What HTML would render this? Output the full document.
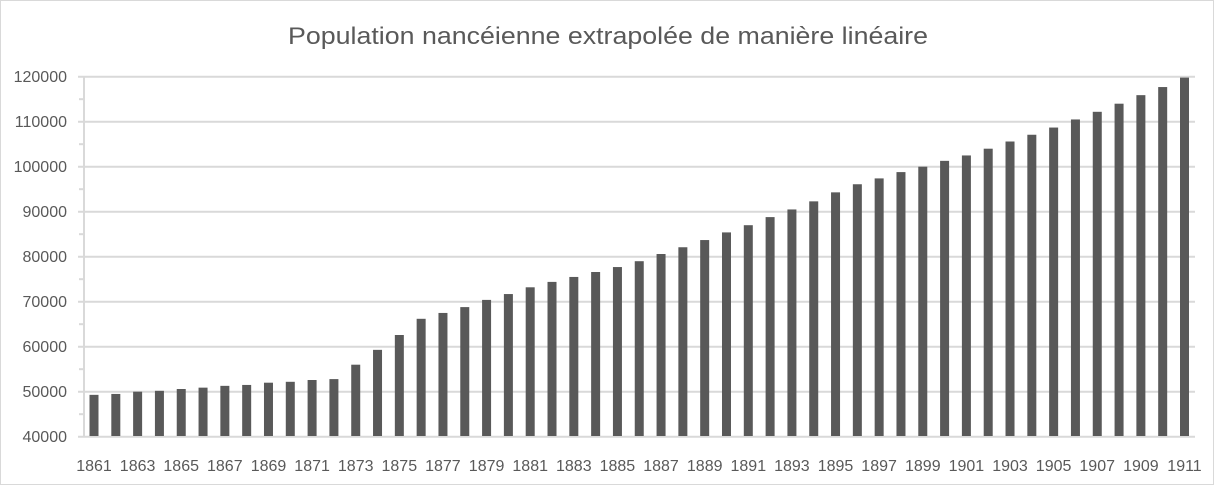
<!DOCTYPE html>
<html><head><meta charset="utf-8"><style>
html,body{margin:0;padding:0;background:#fff;}
svg{display:block;font-family:"Liberation Sans",sans-serif;}
</style></head><body>
<svg id="s" width="1216" height="486" viewBox="0 0 1216 486">
<rect x="0.5" y="0.5" width="1213" height="484" fill="#fff" stroke="#d9d9d9"/>
<text x="608" y="44" text-anchor="middle" font-size="24" fill="#595959" textLength="640" lengthAdjust="spacingAndGlyphs">Population nancéienne extrapolée de manière linéaire</text>
<g id="grid" stroke="#d9d9d9" stroke-width="2"></g>
<g id="bars" fill="#595959"></g>
<g font-size="16" fill="#595959" text-anchor="end">
<text x="67" y="82">120000</text>
<text x="67" y="127">110000</text>
<text x="67" y="172">100000</text>
<text x="67" y="217">90000</text>
<text x="67" y="262">80000</text>
<text x="67" y="307">70000</text>
<text x="67" y="352">60000</text>
<text x="67" y="397">50000</text>
<text x="67" y="442">40000</text>
</g>
<g font-size="16" fill="#595959" text-anchor="middle" id="xl">
<text x="94" y="471">1861</text><text x="137.6" y="471">1863</text><text x="181.2" y="471">1865</text><text x="224.8" y="471">1867</text><text x="268.5" y="471">1869</text><text x="312.1" y="471">1871</text><text x="355.7" y="471">1873</text><text x="399.3" y="471">1875</text><text x="442.9" y="471">1877</text><text x="486.6" y="471">1879</text><text x="530.2" y="471">1881</text><text x="573.8" y="471">1883</text><text x="617.4" y="471">1885</text><text x="661" y="471">1887</text><text x="704.7" y="471">1889</text><text x="748.3" y="471">1891</text><text x="791.9" y="471">1893</text><text x="835.5" y="471">1895</text><text x="879.1" y="471">1897</text><text x="922.8" y="471">1899</text><text x="966.4" y="471">1901</text><text x="1010" y="471">1903</text><text x="1053.6" y="471">1905</text><text x="1097.2" y="471">1907</text><text x="1140.9" y="471">1909</text><text x="1184.5" y="471">1911</text>
</g>
</svg>
<script>
var v=[49300,49500,50000,50200,50600,50900,51300,51500,52000,52200,52600,52800,56000,59300,62600,66200,67500,68800,70400,71700,73200,74400,75500,76600,77700,79000,80600,82100,83700,85400,87000,88800,90500,92300,94300,96100,97400,98800,100000,101300,102500,104000,105600,107100,108700,110500,112200,114000,115900,117700,119800];
var ns="http://www.w3.org/2000/svg";
function Y(x){return 436.7-(x-40000)*360/80000;}
var g=document.getElementById("grid");
for(var k=0;k<=16;k++){var yy=Y(40000+k*5000);var l=document.createElementNS(ns,"line");
 if(k%2==0){l.setAttribute("x1",78);l.setAttribute("x2",1195);}else{l.setAttribute("x1",79);l.setAttribute("x2",84);}
 l.setAttribute("y1",yy);l.setAttribute("y2",yy);g.appendChild(l);}
var a=document.createElementNS(ns,"line");a.setAttribute("x1",84);a.setAttribute("x2",84);a.setAttribute("y1",76.7);a.setAttribute("y2",436.7);g.appendChild(a);
var b=document.getElementById("bars");
for(var i=0;i<v.length;i++){var c=94+i*21.81;var r=document.createElementNS(ns,"rect");
 r.setAttribute("x",c-4.5);r.setAttribute("width",9);r.setAttribute("y",Y(v[i]));r.setAttribute("height",436-Y(v[i]));b.appendChild(r);}
</script>
</body></html>
